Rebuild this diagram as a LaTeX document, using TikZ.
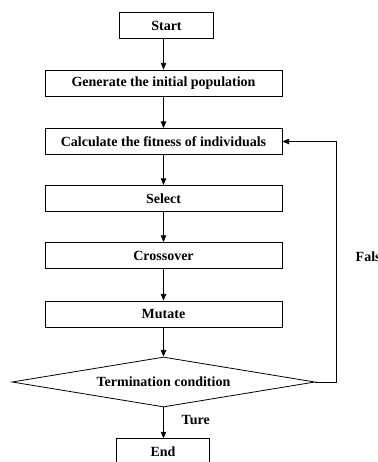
\documentclass[tikz,border=0pt]{standalone}
\usepackage{fontspec}
\setmainfont{Liberation Serif}
\usetikzlibrary{shapes.geometric,arrows.meta}

\begin{document}
\begin{tikzpicture}[x=0.75pt,y=-0.75pt,
	box/.style={draw,line width=0.6pt,minimum width=177.75pt,minimum height=19.5pt,inner sep=0pt},
	smallbox/.style={box,minimum width=70pt,minimum height=19pt},
	decision/.style={draw,diamond,aspect=6,inner sep=0pt,line width=0.6pt,minimum width=227.25pt,minimum height=37.5pt},
	arr/.style={line width=0.6pt,-{Triangle[length=5pt,width=4pt]}},
	font=\fontsize{10.5}{12}\selectfont\bfseries]
	\useasboundingbox (0,0) rectangle (378,462);
	
	\node[smallbox] (start) at (166.5,25.5) {Start};
	\node[box] (gen) at (163.5,83) {Generate the initial population};
	\node[box] (calc) at (163.5,141.5) {Calculate the fitness of individuals};
	\node[box] (sel) at (163.5,198.5) {Select};
	\node[box] (cross) at (163.5,255.5) {Crossover};
	\node[box] (mut) at (163.5,314) {Mutate};
	\node[decision] (term) at (163.5,382) {Termination condition};
	\node[smallbox] (finish) at (163,451.5) {End};
	
	\draw[arr] (start.south -| gen.north) -- (gen.north);
	\draw[arr] (gen) -- (calc);
	\draw[arr] (calc) -- (sel);
	\draw[arr] (sel) -- (cross);
	\draw[arr] (cross) -- (mut);
	\draw[arr] (mut) -- (term);
	\draw[arr] (term.south) -- (term.south |- finish.north);
	
	\coordinate (corner) at (336,382);
	\draw[arr] (term.east) -- (corner) |- (calc.east);
	\node[right] (false) at (351,257) {False};
	\node[right] (true) at (177,420) {Ture};
\end{tikzpicture}
\end{document}
